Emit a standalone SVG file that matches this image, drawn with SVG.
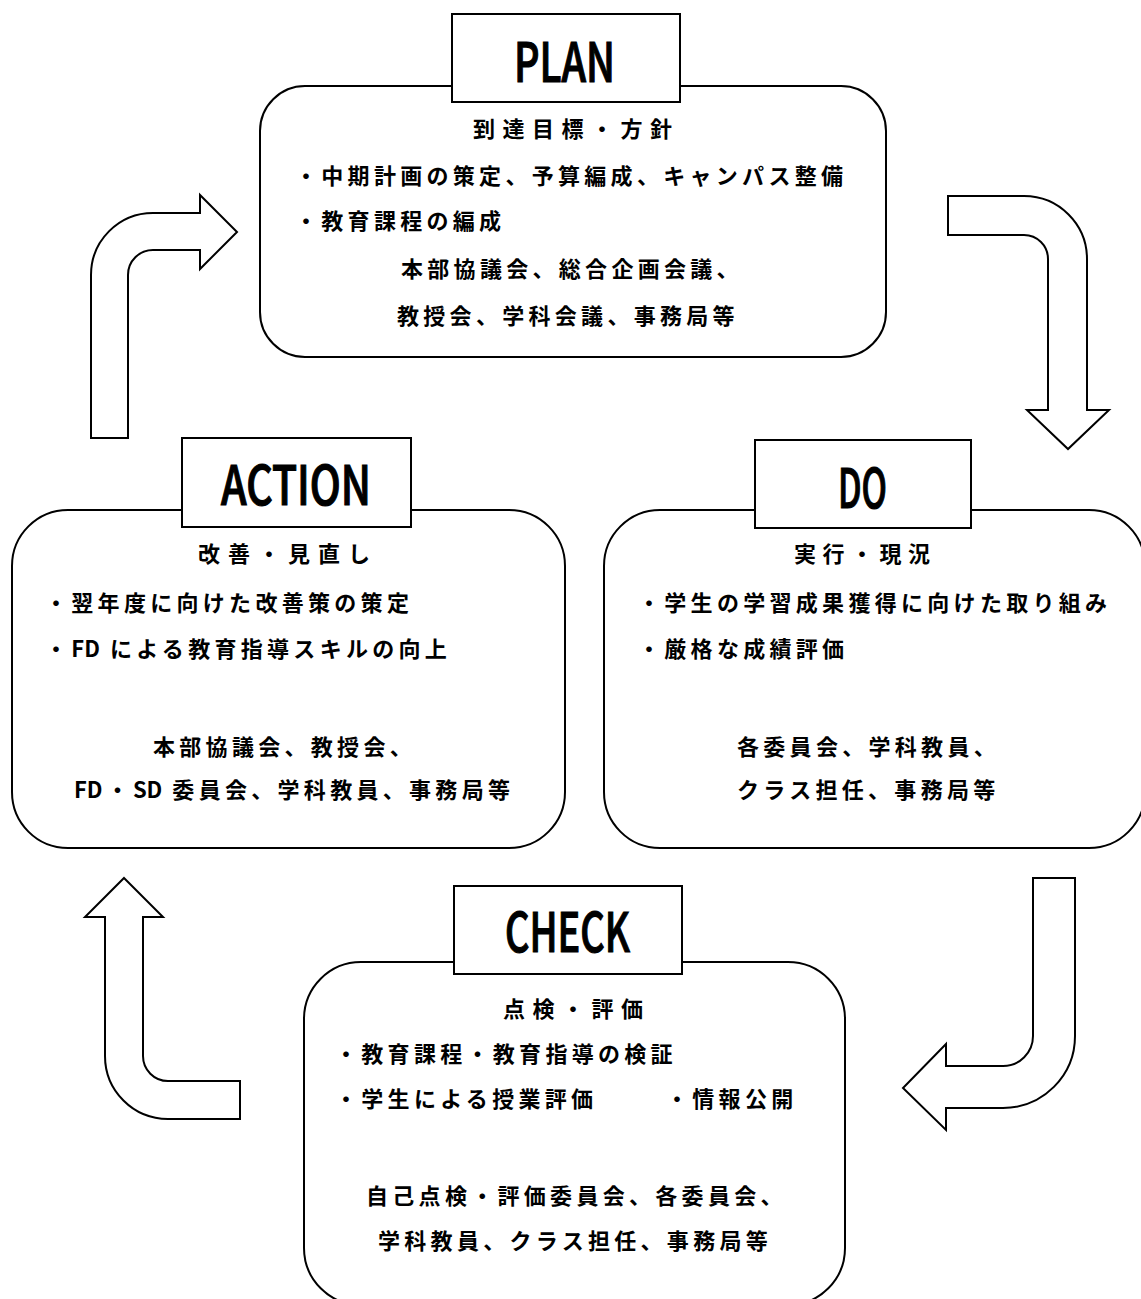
<svg xmlns="http://www.w3.org/2000/svg" width="1141" height="1299" viewBox="0 0 1141 1299">
  <style>
    .panel { fill: #ffffff; stroke: #000000; stroke-width: 2; }
    .tag { fill: #ffffff; stroke: #000000; stroke-width: 2; }
    .tag-text { font-family: "Noto Sans CJK JP", "Liberation Sans", sans-serif; font-weight: 500; font-size: 54px; fill: #000000; stroke: #000000; stroke-width: 1.2px; }
    .head { font-family: "Noto Sans CJK JP", sans-serif; font-weight: bold; font-size: 22px; fill: #000000; }
    .body { font-family: "Noto Sans CJK JP", sans-serif; font-weight: bold; font-size: 22px; letter-spacing: 4.3px; fill: #000000; }
    .tight { letter-spacing: 0px; }
    .flow { fill: #ffffff; stroke: #000000; stroke-width: 2; stroke-linejoin: miter; }
  </style>

  <!-- bent block arrows between the four stages -->
  <g id="connectors">
    <path class="flow" d="M91,438 L91,275 A62,62 0 0 1 153,213 L200,213 L200,195 L237,232 L200,269 L200,250 L153,250 A25,25 0 0 0 128,275 L128,438 Z"/>
    <path class="flow" d="M948,196 L1024,196 A63,63 0 0 1 1087,259 L1087,410 L1109,410 L1068,449 L1027,410 L1048,410 L1048,259 A24,24 0 0 0 1024,235 L948,235 Z"/>
    <path class="flow" d="M1033,878 L1075,878 L1075,1036 A72,72 0 0 1 1003,1108 L946,1108 L946,1130 L903,1088 L946,1044 L946,1066 L1003,1066 A30,30 0 0 0 1033,1036 Z"/>
    <path class="flow" d="M124,878 L163,917 L143,917 L143,1056 A25,25 0 0 0 168,1081 L240,1081 L240,1119 L168,1119 A63,63 0 0 1 105,1056 L105,917 L85,917 Z"/>
  </g>

  <!-- PLAN -->
  <g id="plan">
    <rect class="panel" x="260" y="86" width="626" height="271" rx="45" ry="45"/>
    <rect class="tag" x="452" y="14" width="228" height="88"/>
    <text class="tag-text" x="514" y="82" textLength="101" lengthAdjust="spacingAndGlyphs">PLAN</text>
    <text class="head" x="473" y="137" letter-spacing="7.5">到達目標・方針</text>
    <text class="body" x="295" y="184">・中期計画の策定、予算編成、キャンパス整備</text>
    <text class="body" x="295" y="229">・教育課程の編成</text>
    <text class="body" x="401" y="277">本部協議会、総合企画会議、</text>
    <text class="body" x="397" y="324">教授会、学科会議、事務局等</text>
  </g>

  <!-- ACTION -->
  <g id="action">
    <rect class="panel" x="12" y="510" width="553" height="338" rx="56" ry="56"/>
    <rect class="tag" x="182" y="438" width="229" height="89"/>
    <text class="tag-text" x="221" y="505" textLength="150" lengthAdjust="spacingAndGlyphs">ACTION</text>
    <text class="head" x="198" y="562" letter-spacing="8">改善・見直し</text>
    <text class="body" x="45" y="611">・翌年度に向けた改善策の策定</text>
    <text class="body" x="45" y="657">・<tspan class="tight">FD</tspan><tspan dx="10">による教育指導スキルの向上</tspan></text>
    <text class="body" x="153" y="755">本部協議会、教授会、</text>
    <text class="body" x="74" y="798"><tspan class="tight">FD</tspan><tspan dx="4">・</tspan><tspan class="tight">SD</tspan><tspan dx="10">委員会、学科教員、事務局等</tspan></text>
  </g>

  <!-- DO -->
  <g id="do">
    <rect class="panel" x="604" y="510" width="541" height="338" rx="56" ry="56"/>
    <rect class="tag" x="755" y="440" width="216" height="88"/>
    <text class="tag-text" x="838" y="508" textLength="49" lengthAdjust="spacingAndGlyphs">DO</text>
    <text class="head" x="794" y="562" letter-spacing="6.5">実行・現況</text>
    <text class="body" x="638" y="611">・学生の学習成果獲得に向けた取り組み</text>
    <text class="body" x="638" y="657">・厳格な成績評価</text>
    <text class="body" x="737" y="755">各委員会、学科教員、</text>
    <text class="body" x="737" y="798">クラス担任、事務局等</text>
  </g>

  <!-- CHECK -->
  <g id="check">
    <rect class="panel" x="304" y="962" width="541" height="343" rx="57" ry="57"/>
    <rect class="tag" x="454" y="886" width="228" height="88"/>
    <text class="tag-text" x="505" y="952" textLength="125" lengthAdjust="spacingAndGlyphs">CHECK</text>
    <text class="head" x="503" y="1017" letter-spacing="7.5">点検・評価</text>
    <text class="body" x="335" y="1062">・教育課程・教育指導の検証</text>
    <text class="body" x="335" y="1107">・学生による授業評価</text>
    <text class="body" x="666" y="1107">・情報公開</text>
    <text class="body" x="366" y="1204">自己点検・評価委員会、各委員会、</text>
    <text class="body" x="378" y="1249">学科教員、クラス担任、事務局等</text>
  </g>
</svg>
